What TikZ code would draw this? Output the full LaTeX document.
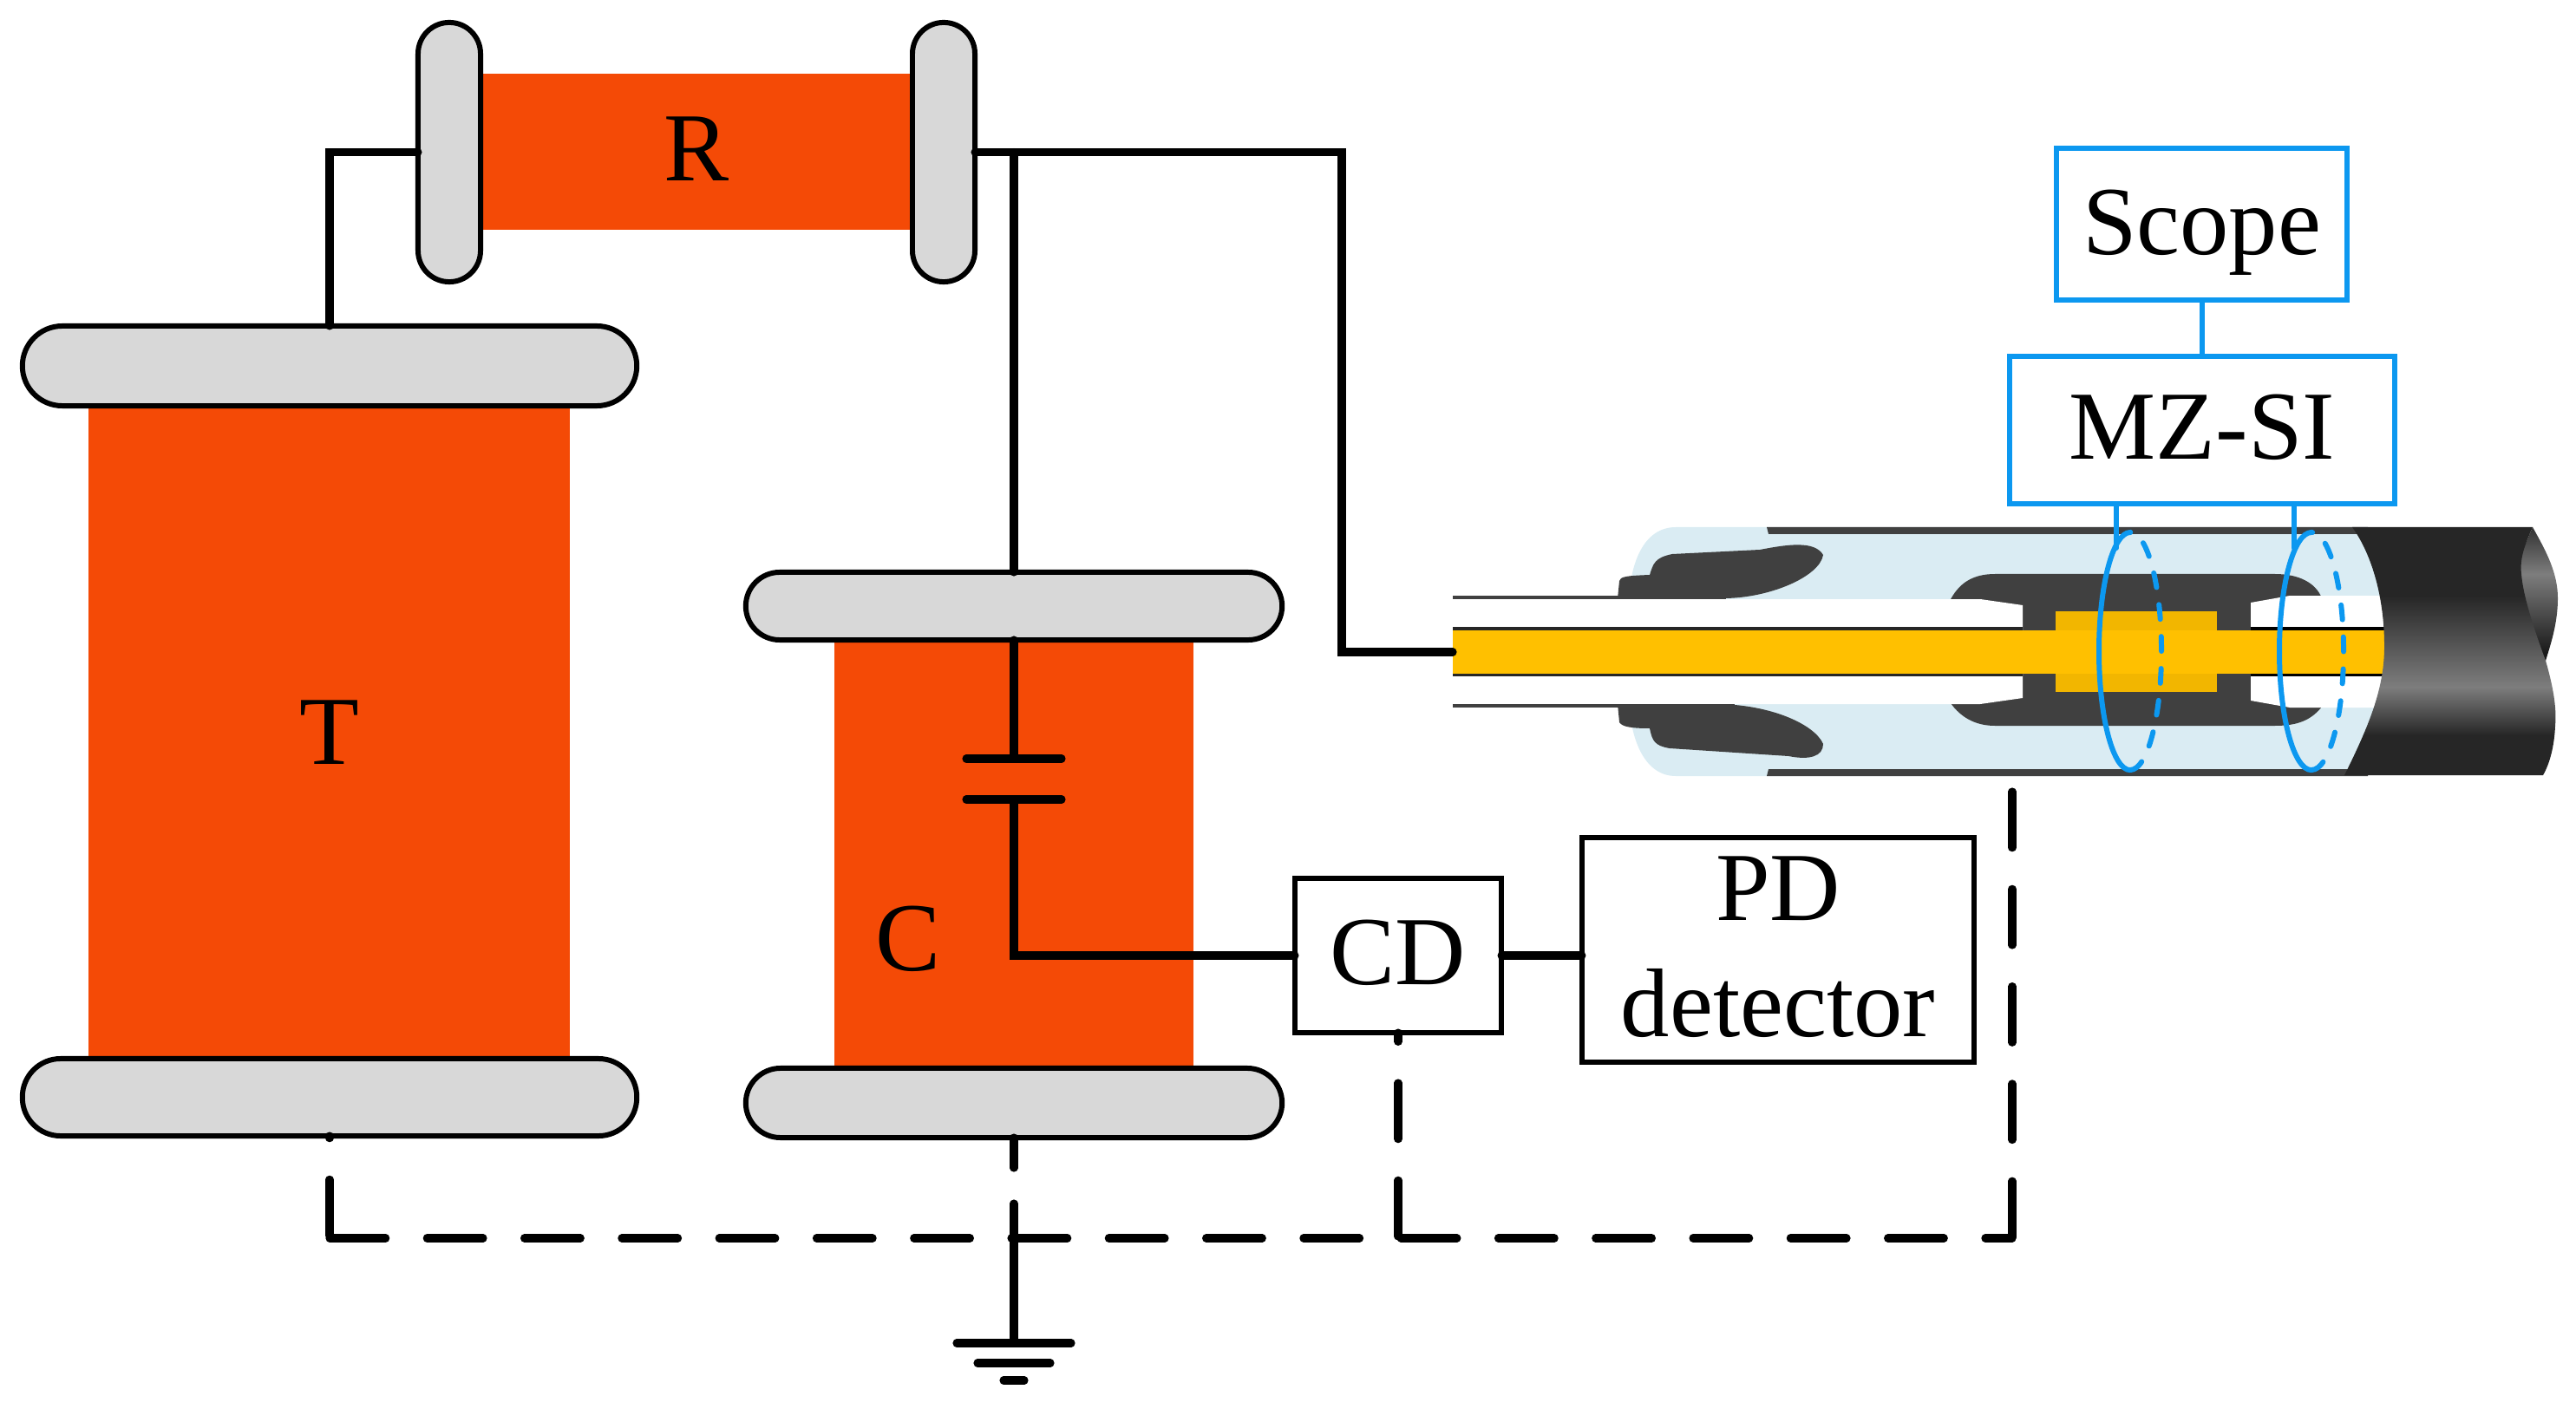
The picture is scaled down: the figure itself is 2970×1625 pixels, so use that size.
\documentclass[tikz,border=0pt]{standalone}
\usepackage{fontspec}
\setmainfont{Liberation Serif}
\definecolor{coilred}{RGB}{244,74,6}
\definecolor{plategray}{RGB}{216,216,216}
\definecolor{probeblue}{RGB}{12,152,240}
\definecolor{glassblue}{RGB}{218,236,243}
\definecolor{darkfill}{RGB}{64,64,64}
\definecolor{pingold}{RGB}{255,192,0}
\definecolor{sleevegold}{RGB}{242,182,0}
\definecolor{jdark}{RGB}{38,38,38}
\definecolor{jlight}{RGB}{125,125,125}
\definecolor{tdark}{RGB}{26,26,26}
\definecolor{ttop}{RGB}{50,50,50}
\pgfdeclareverticalshading{jacketgrad}{100bp}{color(0bp)=(jdark); color(33bp)=(jdark); color(42.8bp)=(jlight); color(61.2bp)=(jdark); color(100bp)=(jdark)}
\pgfdeclareverticalshading{tailgrad}{100bp}{color(0bp)=(tdark); color(28bp)=(tdark); color(57.5bp)=(jlight); color(75bp)=(ttop); color(100bp)=(ttop)}
\tikzset{
	coil/.style={rectangle,fill=coilred,inner sep=0,outer sep=0},
	plate/.style={rectangle,draw=black,fill=plategray,line width=1.7pt,inner sep=0,outer sep=0},
	blackbox/.style={rectangle,draw=black,line width=1.6pt,inner sep=0,outer sep=0,align=center},
	bluebox/.style={rectangle,draw=probeblue,line width=1.7pt,inner sep=0,outer sep=0},
	wire/.style={draw=black,line width=2.6pt,line cap=round},
	dashline/.style={wire,dash pattern=on 18.4pt off 13.53pt},
	probe/.style={draw=probeblue,line width=1.7pt,line cap=round},
	probedash/.style={probe,dash pattern=on 4.8pt off 5.7pt},
}
\begin{document}
\begin{tikzpicture}[x=0.01cm,y=-0.01cm,font=\fontsize{32}{38}\selectfont]
	\useasboundingbox (0,0) rectangle (2970,1625);

	\node (Rbody) [coil,minimum width=4.92cm,minimum height=1.8cm,text depth=2pt] at (803,175) {R};
	\node (Tbody) [coil,minimum width=5.55cm,minimum height=7.47cm] at (379.5,845) {T};
	\node (Cbody) [coil,minimum width=4.14cm,minimum height=4.9cm] at (1169,986) {};
	\node (Clabel) at (1047,1083) {C};

	\node (Rleft) [plate,rounded corners=0.36cm,minimum width=0.72cm,minimum height=2.99cm] at (518,175.5) {};
	\node (Rright) [plate,rounded corners=0.36cm,minimum width=0.72cm,minimum height=2.99cm] at (1088,175.5) {};
	\node (Ttop) [plate,rounded corners=0.46cm,minimum width=7.08cm,minimum height=0.92cm] at (380,422) {};
	\node (Tbot) [plate,rounded corners=0.44cm,minimum width=7.08cm,minimum height=0.89cm] at (380,1265.5) {};
	\node (Ctop) [plate,rounded corners=0.39cm,minimum width=6.18cm,minimum height=0.78cm] at (1169,699) {};
	\node (Cbot) [plate,rounded corners=0.40cm,minimum width=6.18cm,minimum height=0.80cm] at (1169,1272) {};

	\node (CD) [blackbox,minimum width=2.38cm,minimum height=1.78cm,text depth=2pt] at (1612,1102) {CD};
	\node (PD) [blackbox,minimum width=4.52cm,minimum height=2.59cm] at (2050,1095.5) {PD\\detector\rule[-2.3pt]{0pt}{0pt}};
	\node (Scope) [bluebox,minimum width=3.35cm,minimum height=1.75cm,text height=27pt] at (2538.5,258.5) {Scope};
	\node (MZ) [bluebox,minimum width=4.44cm,minimum height=1.70cm,text depth=2pt] at (2539,496) {MZ-SI};

	% coaxial cell
	\fill [glassblue] (1932,608) .. controls (1895,608) and (1878,650) .. (1878,700) -- (1878,800) .. controls (1878,850) and (1895,895) .. (1932,895) -- (2730,895) -- (2760,750) -- (2730,608) -- cycle;
	\fill [darkfill] (2037,608) -- (2730,608) -- (2730,616) -- (2039,616) -- cycle;
	\fill [darkfill] (2039,887) -- (2730,887) -- (2730,895) -- (2037,895) -- cycle;
	\fill [darkfill] (1865,690) -- (1867,670) .. controls (1868,665) and (1875,664) .. (1902,663) .. controls (1906,650) and (1908,643) .. (1928,639) -- (2029,634) .. controls (2060,628) and (2092,623) .. (2102,640) .. controls (2098,665) and (2040,690) .. (1987,690) -- cycle;
	\fill [darkfill] (1865,812) -- (1867,833) .. controls (1870,838) and (1880,840) .. (1902,840) .. controls (1905,855) and (1908,860) .. (1925,863) -- (2062,872) .. controls (2087,877) and (2102,872) .. (2102,858) .. controls (2092,835) and (2040,812) .. (1978,812) -- cycle;
	\fill [darkfill] (2247,695) .. controls (2258,672) and (2275,662) .. (2300,662) -- (2623,662) .. controls (2650,662) and (2670,672) .. (2677,690) -- (2677,815) .. controls (2665,830) and (2650,837) .. (2623,837) -- (2300,837) .. controls (2275,837) and (2258,825) .. (2247,808) -- cycle;
	\fill [sleevegold] (2370,705) rectangle (2556,798);
	\fill [white] (1675,691) -- (2283,691) -- (2332,698) -- (2332,805) -- (2283,812) -- (1675,812) -- cycle;
	\fill [white] (2760,687) -- (2640,687) -- (2595,695) -- (2595,808) -- (2640,816) -- (2760,816) -- cycle;
	\draw [darkfill,line width=0.9pt] (1675,689) -- (1990,689);
	\draw [darkfill,line width=1.1pt] (1675,814) -- (2000,814);
	\draw [black!85,line width=1.1pt] (1675,725) -- (2332,725);
	\draw [black!85,line width=1.1pt] (1675,778.5) -- (2332,778.5);
	\draw [black,line width=1.1pt] (2595,725) -- (2760,725);
	\draw [black,line width=1.1pt] (2595,778.5) -- (2760,778.5);
	\fill [pingold] (1675,727) rectangle (2760,777);
	\shade [shading=tailgrad] (2920,608) .. controls (2935,635) and (2949,660) .. (2949,690) .. controls (2949,720) and (2940,745) .. (2935,762) -- (2880,700) -- cycle;
	\shade [shading=jacketgrad] (2712,608) -- (2920,608) .. controls (2910,630) and (2905,645) .. (2907,662) .. controls (2909,690) and (2925,735) .. (2935,762) .. controls (2943,790) and (2948,815) .. (2946,837) .. controls (2945,860) and (2940,880) .. (2932,894) -- (2703,894) .. controls (2735,830) and (2749,790) .. (2749,745) .. controls (2749,690) and (2735,640) .. (2712,608) -- cycle;

	% wiring
	\coordinate (bend) at (1547,752);
	\coordinate (feed) at (1675,752);
	\coordinate (capU) at (1169,875);
	\coordinate (capD) at (1169,922);
	\coordinate (dashR) at (2320,1428);
	\coordinate (dashE) at (2320,913);
	\coordinate (gapA) at (1169,1347);
	\coordinate (gapB) at (1169,1388);
	\coordinate (gnd) at (1169,1549);
	\draw [wire] (Rleft.west) -| (Ttop.north);
	\draw [wire] (Rright.east) -| (bend) -- (feed);
	\draw [wire] (Rright.east -| Ctop.north) -- (Ctop.north);
	\draw [wire] (Ctop.south) -- (capU);
	\draw [wire] (capU) ++(-55,0) -- ++(110,0);
	\draw [wire] (capD) ++(-55,0) -- ++(110,0);
	\draw [wire] (capD) |- (CD.west);
	\draw [wire] (CD.east) -- (CD.east -| PD.west);
	\draw [dashline] (Tbot.south |- dashR) -- (dashR);
	\draw [dashline,dash phase=17.64pt] (Tbot.south) -- (Tbot.south |- dashR);
	\draw [dashline,dash phase=15.46pt] (CD.south) -- (CD.south |- dashR);
	\draw [dashline] (dashE) -- (dashR);
	\draw [wire] (Cbot.south) -- (gapA);
	\draw [wire] (gapB) -- (gnd);
	\draw [wire] (gnd) ++(-66,0) -- ++(132,0);
	\draw [wire] (gnd) ++(-42,23) -- ++(84,0);
	\draw [wire] (gnd) ++(-12,43) -- ++(24,0);

	% probes
	\coordinate (leadA) at (2440,632);
	\coordinate (leadB) at (2645,632);
	\draw [probe] (Scope.south -| MZ.north) -- (MZ.north);
	\draw [probe] (leadA |- MZ.south) -- (leadA);
	\draw [probe] (leadB |- MZ.south) -- (leadB);
	\draw [probe] (2456,614) arc [start angle=90,end angle=270,x radius=0.36cm,y radius=1.37cm];
	\draw [probedash] (2456,888) arc [start angle=270,end angle=450,x radius=0.36cm,y radius=1.37cm];
	\draw [probe] (2665,614) arc [start angle=90,end angle=270,x radius=0.37cm,y radius=1.37cm];
	\draw [probedash] (2665,888) arc [start angle=270,end angle=450,x radius=0.37cm,y radius=1.37cm];
\end{tikzpicture}
\end{document}
